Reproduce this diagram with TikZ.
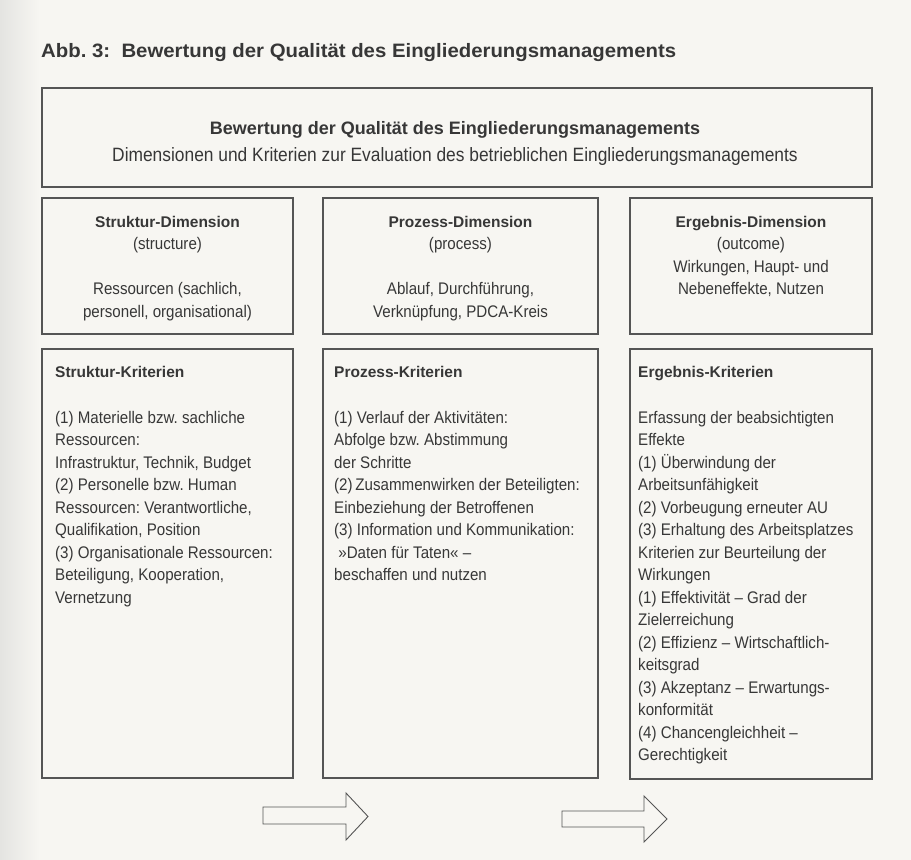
\documentclass[tikz,border=0pt]{standalone}
\usepackage{fontspec}
\setmainfont{Liberation Sans}[FakeStretch=0.9]
\newfontfamily\hdfont{Liberation Sans}
\newfontfamily\ttlfont{Liberation Sans}[FakeStretch=1.05]
\definecolor{paper}{RGB}{247,246,242}
\definecolor{paperedge}{RGB}{228,228,225}
\definecolor{ink}{RGB}{55,55,55}
\definecolor{frame}{RGB}{85,85,85}
\frenchspacing
\begin{document}
\begin{tikzpicture}[x=1pt,y=-1pt,
  box/.style={draw=frame,line width=1.1pt,rectangle,inner sep=0pt},
  txt/.style={inner sep=0pt,text=ink,font=\fontsize{16.8}{22.5}\selectfont},
  hd/.style={inner sep=0pt,text=ink,font=\hdfont\bfseries\fontsize{15.5}{22.5}\selectfont},
  bigarrow/.style={draw=frame,line width=0.9pt,fill=paper,line join=miter}]
\useasboundingbox (0,0) rectangle (911,860);
\fill[paper] (0,0) rectangle (911,860);
\shade[left color=paperedge,right color=paper] (0,0) rectangle (40,860);

% title
\node[anchor=base west,inner sep=0pt,text=ink,font=\ttlfont\bfseries\fontsize{19.4}{22}\selectfont] (title) at (41,57)
  {Abb. 3:\ \ Bewertung der Qualität des Eingliederungsmanagements};

% top box
\node[box,minimum width=830pt,minimum height=99pt] (top) at (457,137.5) {};
\node[anchor=base,inner sep=0pt,text=ink,font=\hdfont\bfseries\fontsize{18}{22}\selectfont] (toph) at (455,134)
  {Bewertung der Qualität des Eingliederungsmanagements};
\node[anchor=base,inner sep=0pt,text=ink,font=\fontsize{19.3}{22}\selectfont] (tops) at (455,161)
  {Dimensionen und Kriterien zur Evaluation des betrieblichen Eingliederungsmanagements};

% dimension boxes
\node[box,minimum width=251pt,minimum height=136pt] (dimL) at (167.5,266) {};
\node[box,minimum width=275pt,minimum height=136pt] (dimM) at (460.5,266) {};
\node[box,minimum width=242pt,minimum height=136pt] (dimR) at (751,266) {};

\node[hd,anchor=base] (dLh) at (167.5,227) {Struktur-Dimension};
\node[txt,anchor=base] (dL1) at (167.5,249.5) {(structure)};
\node[txt,anchor=base] (dL2) at (167.5,294.5) {Ressourcen (sachlich,};
\node[txt,anchor=base] (dL3) at (167.5,317) {personell, organisational)};

\node[hd,anchor=base] (dMh) at (460.5,227) {Prozess-Dimension};
\node[txt,anchor=base] (dM1) at (460.5,249.5) {(process)};
\node[txt,anchor=base] (dM2) at (460.5,294.5) {Ablauf, Durchführung,};
\node[txt,anchor=base] (dM3) at (460.5,317) {Verknüpfung, PDCA-Kreis};

\node[hd,anchor=base] (dRh) at (751,227) {Ergebnis-Dimension};
\node[txt,anchor=base] (dR1) at (751,249.5) {(outcome)};
\node[txt,anchor=base] (dR2) at (751,272) {Wirkungen, Haupt- und};
\node[txt,anchor=base] (dR3) at (751,294.5) {Nebeneffekte, Nutzen};

% criteria boxes
\node[box,minimum width=251pt,minimum height=429pt] (krL) at (167.5,563.5) {};
\node[box,minimum width=275pt,minimum height=429pt] (krM) at (460.5,563.5) {};
\node[box,minimum width=242pt,minimum height=430pt] (krR) at (751,564) {};

\node[hd,anchor=base west] (kLh) at (55,377.5) {Struktur-Kriterien};
\foreach \t [count=\i] in {{(1) Materielle bzw. sachliche},{Ressourcen:},{Infrastruktur, Technik, Budget},
  {(2) Personelle bzw. Human},{Ressourcen: Verantwortliche,},{Qualifikation, Position},
  {(3) Organisationale Ressourcen:},{Beteiligung, Kooperation,},{Vernetzung}}
  \node[txt,anchor=base west] (kL\i) at (55,{423+22.5*(\i-1)}) {\t};

\node[hd,anchor=base west] (kMh) at (334,377.5) {Prozess-Kriterien};
\foreach \t [count=\i] in {{(1) Verlauf der Aktivitäten:},{Abfolge bzw. Abstimmung},{der Schritte},
  {(2)\,Zusammenwirken der Beteiligten:},{Einbeziehung der Betroffenen},{(3) Information und Kommunikation:},
  {\ »Daten für Taten« –},{beschaffen und nutzen}}
  \node[txt,anchor=base west] (kM\i) at (334,{423+22.5*(\i-1)}) {\t};

\node[hd,anchor=base west] (kRh) at (638,377.5) {Ergebnis-Kriterien};
\foreach \t [count=\i] in {{Erfassung der beabsichtigten},{Effekte},{(1) Überwindung der},{Arbeitsunfähigkeit},
  {(2) Vorbeugung erneuter AU},{(3) Erhaltung des Arbeitsplatzes},{Kriterien zur Beurteilung der},{Wirkungen},
  {(1) Effektivität – Grad der},{Zielerreichung},{(2) Effizienz – Wirtschaftlich-},{keitsgrad},
  {(3) Akzeptanz – Erwartungs-},{konformität},{(4) Chancengleichheit –},{Gerechtigkeit}}
  \node[txt,anchor=base west] (kR\i) at (638,{423+22.5*(\i-1)}) {\t};

% block arrows
\draw[bigarrow] (263,807) -- (346,807) -- (346,793) -- (368,816.5) -- (346,840) -- (346,824) -- (263,824) -- cycle;
\draw[bigarrow] (562,811) -- (644,811) -- (644,796) -- (667,819) -- (644,842) -- (644,827) -- (562,827) -- cycle;
\end{tikzpicture}
\end{document}
